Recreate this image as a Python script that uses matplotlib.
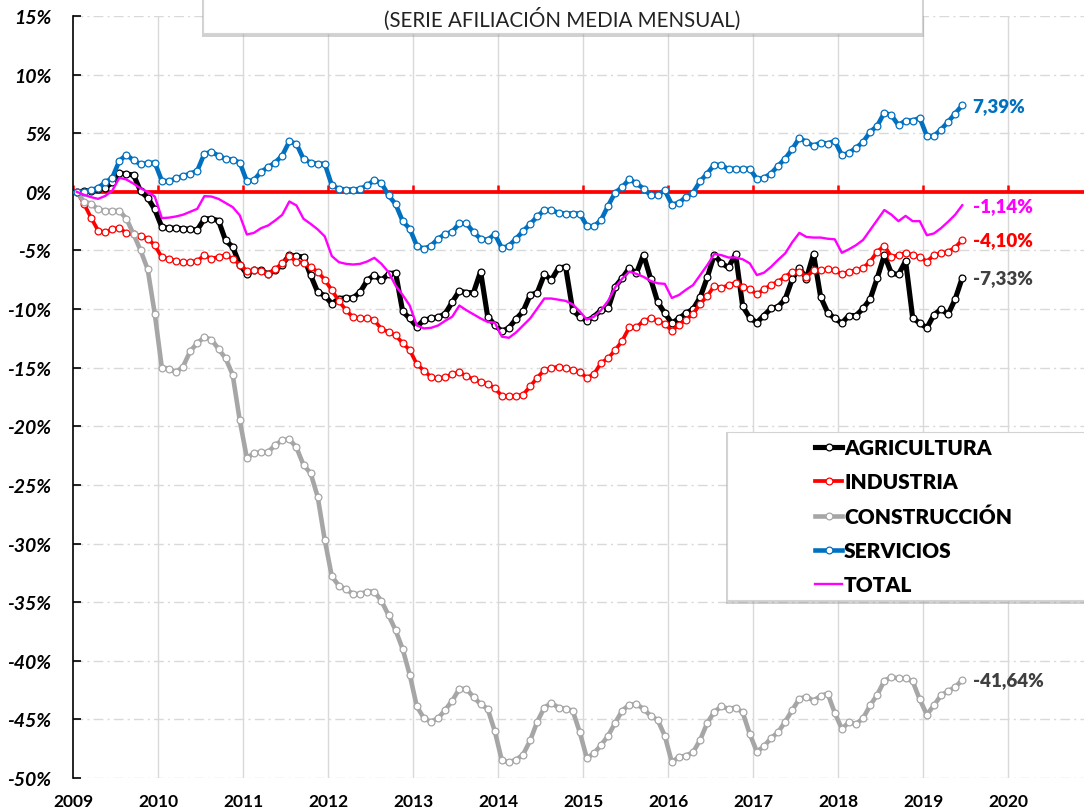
import matplotlib
matplotlib.use("Agg")
import matplotlib.pyplot as plt
from matplotlib.patches import Rectangle
import numpy as np

plt.rcParams['font.family'] = ['Lato', 'DejaVu Sans']

# ---------------- DATA (monthly, Jan 2009 - Jun 2019, % change vs Jan 2009) -------------
start_year = 2009
year_ticks = list(range(2009, 2021))
year_labels = [str(y) for y in year_ticks]
y_ticks = list(range(-50, 20, 5))
y_tick_labels = [f"{v}%" for v in y_ticks]

series_names = ["AGRICULTURA", "INDUSTRIA", "CONSTRUCCIÓN", "SERVICIOS", "TOTAL"]

agricultura = [
    0.0, 0.05, 0.1, 0.25, 0.35, 0.8, 1.6, 1.5, 1.45, 0.05, -0.5, -1.5,
    -3.0, -3.1, -3.1, -3.15, -3.2, -3.25, -2.3, -2.3, -2.45, -4.15, -4.7, -6.2,
    -7.0, -6.7, -6.7, -7.0, -6.7, -6.2, -5.4, -5.5, -5.55, -7.1, -8.55, -8.85,
    -9.55, -9.1, -9.05, -9.05, -8.55, -7.55, -7.1, -7.55, -7.0, -6.9, -10.2, -10.8,
    -11.5, -10.95, -10.8, -10.7, -10.4, -9.4, -8.45, -8.6, -8.6, -6.8, -10.65, -11.35,
    -11.9, -11.6, -10.85, -10.2, -8.8, -8.6, -7.05, -7.5, -6.5, -6.4, -10.1, -10.65,
    -11.0, -10.65, -10.1, -9.95, -8.1, -7.35, -6.5, -6.95, -5.35, -7.4, -9.4, -10.35,
    -11.2, -10.8, -10.35, -10.0, -9.0, -7.3, -5.35, -6.1, -6.45, -5.3, -9.75, -10.75,
    -11.15, -10.55, -9.95, -9.8, -9.15, -7.45, -6.5, -7.4, -5.3, -8.95, -10.3, -10.8,
    -11.2, -10.55, -10.55, -9.95, -9.15, -7.35, -5.4, -6.95, -7.05, -5.9, -10.75, -11.2,
    -11.6, -10.5, -10.0, -10.45, -9.15, -7.33,
]

industria = [
    0.0, -1.0, -2.2, -3.3, -3.45, -3.2, -3.05, -3.55, -3.6, -3.75, -4.0, -4.55,
    -5.6, -5.7, -5.9, -6.0, -5.95, -5.9, -5.4, -5.7, -5.55, -5.4, -5.7, -6.2,
    -6.75, -6.7, -6.75, -7.0, -6.6, -6.1, -5.5, -5.95, -6.05, -6.45, -6.8, -7.5,
    -8.4, -9.3, -10.1, -10.7, -10.75, -10.75, -10.95, -11.7, -11.95, -12.25, -12.9, -13.5,
    -14.7, -15.25, -15.8, -15.9, -15.8, -15.55, -15.4, -15.7, -16.0, -16.2, -16.4, -16.75,
    -17.4, -17.4, -17.4, -17.3, -16.6, -15.85, -15.2, -15.05, -14.9, -15.05, -15.2, -15.4,
    -15.85, -15.55, -14.6, -14.2, -13.5, -12.7, -11.55, -11.55, -11.0, -10.8, -11.0, -11.25,
    -11.85, -11.35, -10.9, -10.4, -9.55, -8.9, -8.0, -8.2, -7.95, -7.75, -8.1, -8.3,
    -8.75, -8.3, -7.95, -7.65, -7.25, -6.8, -6.8, -7.25, -6.7, -6.7, -6.6, -6.7,
    -7.05, -6.8, -6.7, -6.5, -5.95, -5.1, -4.6, -5.55, -5.4, -5.2, -5.4, -5.55,
    -5.95, -5.4, -5.25, -5.1, -4.75, -4.10,
]

construccion = [
    0.0, -0.83, -1.0, -1.5, -1.6, -1.65, -1.6, -2.3, -3.6, -5.0, -6.6, -10.4,
    -15.0, -15.07, -15.4, -14.9, -13.6, -12.9, -12.4, -12.6, -13.4, -14.2, -15.6, -19.5,
    -22.7, -22.3, -22.2, -22.2, -21.6, -21.2, -21.1, -21.8, -23.3, -24.0, -26.0, -29.7,
    -32.8, -33.6, -33.9, -34.3, -34.3, -34.1, -34.1, -34.9, -36.1, -37.4, -39.0, -41.2,
    -43.9, -44.9, -45.2, -44.9, -44.2, -43.4, -42.4, -42.4, -43.1, -43.7, -44.1, -46.0,
    -48.5, -48.65, -48.45, -48.0, -46.8, -45.2, -44.0, -43.6, -44.0, -44.1, -44.25, -46.1,
    -48.3, -47.9, -47.2, -46.4, -45.3, -44.25, -43.75, -43.7, -44.1, -44.7, -45.05, -46.4,
    -48.65, -48.2, -48.1, -47.8, -46.75, -45.3, -44.35, -43.9, -44.1, -44.0, -44.4, -46.25,
    -47.75, -47.3, -46.6, -46.1, -45.2, -44.2, -43.25, -43.05, -43.4, -43.0, -42.8, -44.45,
    -45.8, -45.25, -45.4, -44.9, -43.8, -42.9, -41.7, -41.4, -41.5, -41.5, -41.75, -43.3,
    -44.6, -43.8, -42.95, -42.6, -42.25, -41.64,
]

servicios = [
    0.0, 0.0, 0.15, 0.35, 0.8, 1.2, 2.65, 3.15, 2.7, 2.35, 2.45, 2.5,
    0.95, 0.9, 1.15, 1.35, 1.55, 1.8, 3.25, 3.4, 3.1, 2.8, 2.75, 2.5,
    0.9, 1.0, 1.7, 2.1, 2.5, 3.1, 4.3, 4.1, 2.8, 2.5, 2.4, 2.4,
    0.55, 0.25, 0.2, 0.2, 0.25, 0.55, 1.0, 0.75, -0.3, -1.05, -2.5, -3.15,
    -4.6, -4.85, -4.6, -4.0, -3.6, -3.4, -2.7, -2.7, -3.45, -4.0, -4.1, -3.6,
    -4.8, -4.6, -4.0, -3.35, -2.75, -2.1, -1.55, -1.55, -1.8, -1.85, -1.85, -1.85,
    -2.9, -2.95, -2.41, -1.19, -0.06, 0.4, 1.08, 0.72, 0.28, -0.28, -0.28, 0.14,
    -1.08, -0.94, -0.43, -0.06, 0.91, 1.56, 2.33, 2.27, 1.93, 1.99, 1.93, 1.99,
    1.08, 1.19, 1.56, 2.22, 2.84, 3.64, 4.6, 4.26, 3.92, 4.2, 4.12, 4.35,
    3.13, 3.32, 3.75, 4.26, 5.11, 5.63, 6.76, 6.53, 5.68, 6.08, 6.08, 6.3,
    4.77, 4.77, 5.31, 5.97, 6.68, 7.39,
]

total = [
    0.0, -0.25, -0.45, -0.6, -0.35, 0.1, 1.2, 1.05, 0.7, 0.3, 0.0, -0.4,
    -2.24, -2.2, -2.1, -1.95, -1.7, -1.45, -0.37, -0.4, -0.6, -0.95, -1.3, -2.0,
    -3.64, -3.5, -3.1, -2.87, -2.44, -1.96, -0.82, -1.16, -2.3, -2.73, -3.2, -3.8,
    -5.48, -6.0, -6.14, -6.2, -6.14, -5.94, -5.63, -6.14, -6.85, -8.0, -8.8, -9.7,
    -11.4, -11.65, -11.6, -11.4, -11.0, -10.65, -9.7, -10.1, -10.45, -10.8, -11.1, -11.15,
    -12.35, -12.45, -12.0, -11.4, -10.8, -9.95, -9.1, -9.1, -9.2, -9.3, -9.6, -10.2,
    -10.9, -10.65, -10.1, -9.3, -8.15, -7.4, -6.8, -7.0, -7.25, -7.6, -7.8, -7.85,
    -9.05, -8.8, -8.35, -7.95, -7.1, -6.25, -5.3, -5.4, -5.6, -5.6, -5.75, -6.1,
    -7.1, -6.9, -6.4, -5.8, -5.25, -4.3, -3.5, -3.85, -3.9, -3.9, -4.0, -4.05,
    -5.2, -4.9, -4.55, -4.1, -3.25, -2.4, -1.55, -1.95, -2.5, -2.05, -2.5, -2.5,
    -3.7, -3.55, -3.1, -2.55, -1.95, -1.14,
]

end_labels = ["-7,33%", "-4,10%", "-41,64%", "7,39%", "-1,14%"]
title_text = "(SERIE AFILIACIÓN MEDIA MENSUAL)"

# ---------------- STYLE -------------------------------------------------------------
colors = ["#000000", "#FF0000", "#A6A6A6", "#0070C0", "#FF00FF"]
label_colors = ["#404040", "#FF0000", "#404040", "#0070C0", "#FF00FF"]
linewidths = [3.7, 2.7, 3.3, 3.3, 1.7]
has_marker = [True, True, True, True, False]

W, H = 1084, 812
fig = plt.figure(figsize=(W / 100, H / 100), dpi=100)
ax_left, ax_right = 73.3, 1084
ax_top, ax_bottom = 17, 779
ax = fig.add_axes([ax_left / W, 1 - ax_bottom / H, (ax_right - ax_left) / W, (ax_bottom - ax_top) / H])

px_per_year = 85.0
ax.set_xlim(start_year, start_year + (ax_right - ax_left) / px_per_year)
ax.set_ylim(-50, 15)

all_series = [agricultura, industria, construccion, servicios, total]
n = len(agricultura)
x = start_year + (np.arange(n) + 0.5) / 12.0

# grid
for yr in year_ticks[1:]:
    ax.axvline(yr, color="#d9d9d9", lw=1.0, zorder=0)
for yv in y_ticks:
    if yv != 0:
        ax.axhline(yv, color="#d9d9d9", lw=1.0, ls=(0, (7, 3, 1.5, 3)), zorder=0)

# zero axis line with year tick marks
ax.axhline(0, color="#FF0000", lw=2.7, zorder=2)
ax.vlines(year_ticks, 0, 0.55, colors="#FF0000", lw=1.8, zorder=2)

handles = []
for k, (name, data) in enumerate(zip(series_names, all_series)):
    if has_marker[k]:
        ln, = ax.plot(x, data, color=colors[k], lw=linewidths[k], marker="o", ms=4.9,
                      mfc="white", mec=colors[k], mew=0.9, zorder=3 + k, label=name,
                      solid_joinstyle="round")
    else:
        ln, = ax.plot(x, data, color=colors[k], lw=linewidths[k], zorder=3 + k, label=name)
    handles.append(ln)
    ax.annotate(end_labels[k], xy=(x[-1], data[-1]), xytext=(7.5, 0),
                textcoords="offset points", va="center", ha="left",
                fontsize=13.5, fontweight="heavy", color=label_colors[k], zorder=10)

# axes styling
for s in ["top", "right", "bottom"]:
    ax.spines[s].set_visible(False)
ax.spines["left"].set_color("black")
ax.spines["left"].set_linewidth(1.2)
ax.set_yticks(y_ticks)
ax.set_yticklabels(y_tick_labels, fontsize=14, fontweight="bold", fontstyle="italic")
ax.tick_params(axis="y", direction="in", length=6, width=1.2, pad=16)
ax.set_xticks(year_ticks)
ax.set_xticklabels(year_labels, fontsize=12.5, fontweight="bold")
ax.tick_params(axis="x", length=0, pad=11)

# boxes with a soft shadow
def box_with_shadow(x0, y0, x1, y1, z):
    sh = Rectangle(((x0 - 1) / W, 1 - (y1 + 4) / H), (x1 - x0 + 3) / W, (y1 - y0 + 4) / H,
                   transform=fig.transFigure, facecolor="#9a9a9a", alpha=0.45,
                   edgecolor="none", zorder=z)
    bx = Rectangle((x0 / W, 1 - y1 / H), (x1 - x0) / W, (y1 - y0) / H,
                   transform=fig.transFigure, facecolor="white",
                   edgecolor="#d4d4d4", lw=0.8, zorder=z + 0.1)
    fig.patches.extend([sh, bx])

box_with_shadow(203, -20, 922, 34, 20)
fig.text(562 / W, 1 - 19 / H, title_text, ha="center", va="center", fontsize=14.8,
         color="#222222", zorder=25)

box_with_shadow(727, 433, 1100, 601, 20)
leg = fig.legend(handles, series_names, loc="upper left",
                 bbox_to_anchor=(815 / W, 1 - 439 / H), frameon=False,
                 prop={"weight": "heavy", "size": 15}, handlelength=1.3,
                 handletextpad=0.1, labelspacing=0.73, borderpad=0.0,
                 borderaxespad=0.0)
leg.set_zorder(30)

fig.savefig("out.png", dpi=100)
